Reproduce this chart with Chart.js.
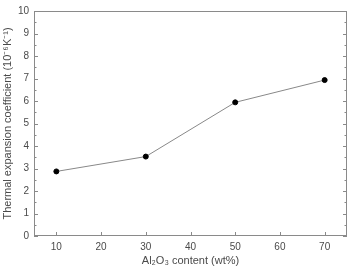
<!DOCTYPE html>
<html>
<head>
<meta charset="utf-8">
<script src="https://cdn.jsdelivr.net/npm/chart.js@4/dist/chart.umd.min.js"></script>
<style>
	html, body { margin: 0; padding: 0; background: #fff; }
	#wrap { width: 352px; height: 269px; }
</style>
</head>
<body>
<div id="wrap"><canvas id="myChart" width="352" height="269"></canvas></div>
<script>
!(function(){
	'use strict';

	var contents = [10, 30, 50, 70];          // Al2O3 wt%
	var expansion = [2.87, 3.53, 5.94, 6.93]; // 10^-6 K^-1
	var xTicks = [10, 20, 30, 40, 50, 60, 70];
	var yTicks = [0, 1, 2, 3, 4, 5, 6, 7, 8, 9, 10];

	var frameColor = '#8a8a8a';
	var textColor = '#4a4a4a';

	// frame + inward ticks like the original plot
	var framePlugin = {
		id: 'frame',
		afterDraw: function(chart){
			var ctx = chart.ctx, a = chart.chartArea;
			var xs = chart.scales.x, ys = chart.scales.y;
			ctx.save();
			ctx.strokeStyle = frameColor;
			ctx.lineWidth = 1;
			ctx.strokeRect(a.left + 0.5, a.top + 0.5, a.right - a.left - 1, a.bottom - a.top - 1);
			ctx.beginPath();
			xTicks.forEach(function(v){
				var px = Math.round(xs.getPixelForValue(v)) + 0.5;
				ctx.moveTo(px, a.bottom); ctx.lineTo(px, a.bottom - 4);
			});
			for (var v = 0; v <= 10; v += 0.5) {
				var py = Math.round(ys.getPixelForValue(v)) + 0.5;
				var len = (v % 1 === 0) ? 4 : 2.5;
				ctx.moveTo(a.left, py); ctx.lineTo(a.left + len, py);
				ctx.moveTo(a.right, py); ctx.lineTo(a.right - len, py);
			}
			ctx.stroke();
			ctx.restore();
		}
	};

	var ctx = document.getElementById('myChart').getContext('2d');
	var myChart = new Chart(ctx, {
		type: 'scatter',
		data: {
			datasets: [{
				data: contents.map(function(c, i){ return { x: c, y: expansion[i] }; }),
				showLine: true,
				borderColor: '#888',
				borderWidth: 1,
				pointRadius: 2.5,
				pointBackgroundColor: '#000',
				pointBorderColor: '#000'
			}]
		},
		options: {
			responsive: false,
			animation: false,
			layout: { padding: { top: 8, right: 5, left: 0, bottom: 0 } },
			plugins: { legend: { display: false }, tooltip: { enabled: false } },
			scales: {
				x: {
					type: 'linear',
					min: 5, max: 75,
					afterBuildTicks: function(s){ s.ticks = xTicks.map(function(v){ return { value: v }; }); },
					afterFit: function(s){ s.height = 33; },
					grid: { display: false, drawTicks: false },
					border: { display: false },
					ticks: { color: textColor, font: { family: 'Liberation Sans', size: 10 }, padding: 5, maxRotation: 0 },
					title: { display: true, text: 'Al\u2082O\u2083 content (wt%)', color: textColor,
						font: { family: 'Liberation Sans', size: 11 }, padding: { top: 2, bottom: 1 } }
				},
				y: {
					min: 0, max: 10,
					afterBuildTicks: function(s){ s.ticks = yTicks.map(function(v){ return { value: v }; }); },
					afterFit: function(s){ s.width = 34; },
					grid: { display: false, drawTicks: false },
					border: { display: false },
					ticks: { color: textColor, font: { family: 'Liberation Sans', size: 10 }, padding: 5 },
					title: { display: true, text: 'Thermal expansion coefficient (10\u207B\u2076K\u207B\u00B9)', color: textColor,
						font: { family: 'Liberation Sans', size: 11 }, padding: { top: 1, bottom: 0 } }
				}
			}
		},
		plugins: [framePlugin]
	});
})();
</script>
</body>
</html>
